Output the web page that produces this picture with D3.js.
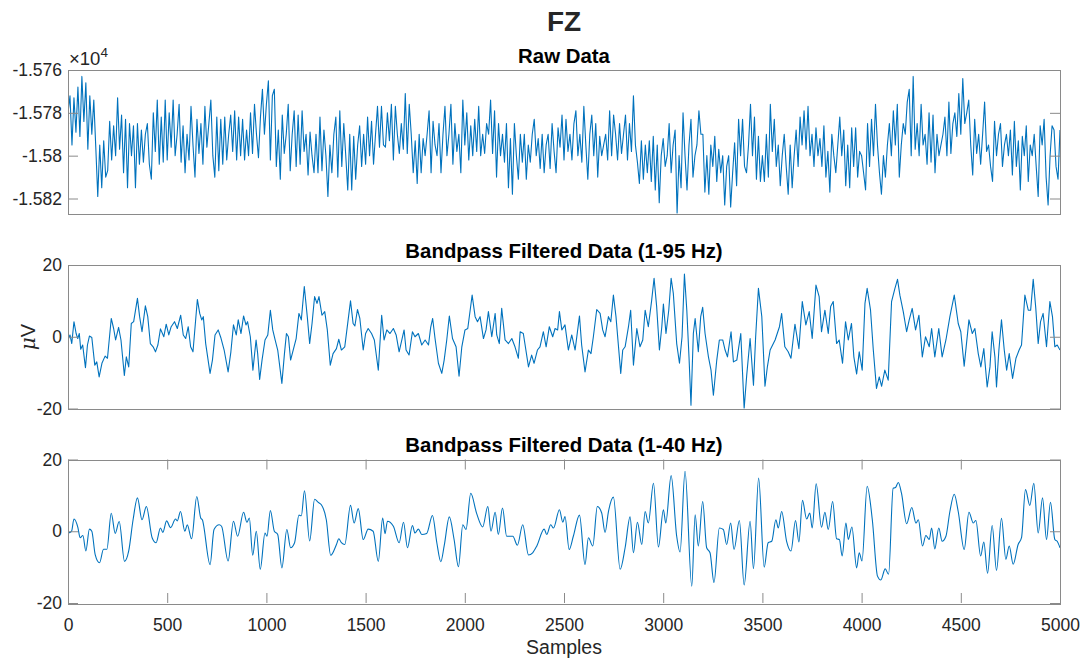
<!DOCTYPE html>
<html>
<head>
<meta charset="utf-8">
<script src="https://cdn.jsdelivr.net/npm/d3@7"></script>
<style>
  body { margin: 0; background: #fff; }
  text { font-family: "Liberation Sans", Arial, Helvetica, sans-serif; }
</style>
</head>
<body>
<div class="chart"></div>
<script>
var width = 1083;
var height = 659;

var xTicks = [0, 500, 1000, 1500, 2000, 2500, 3000, 3500, 4000, 4500, 5000];
var rawTicks = [-15760, -15780, -15800, -15820];
var uvTicks = [-20, 0, 20];

// raw signal, one value every rawStep samples
var rawStep = 10;
var rawValues = [
  -15780,-15772,-15795,-15773,-15789,-15768,-15791,-15763,-15784,-15766,
  -15797,-15772,-15790,-15774,-15796,-15819,-15795,-15815,-15793,-15810,
  -15807,-15784,-15802,-15786,-15800,-15773,-15797,-15781,-15808,-15783,
  -15815,-15785,-15800,-15786,-15815,-15785,-15804,-15788,-15803,-15790,
  -15785,-15804,-15811,-15780,-15798,-15774,-15804,-15782,-15803,-15774,
  -15802,-15780,-15796,-15774,-15800,-15790,-15776,-15803,-15786,-15808,
  -15790,-15802,-15777,-15795,-15810,-15783,-15799,-15785,-15804,-15777,
  -15796,-15785,-15774,-15800,-15810,-15782,-15807,-15783,-15804,-15782,
  -15802,-15790,-15781,-15798,-15779,-15802,-15782,-15800,-15783,-15802,
  -15788,-15800,-15780,-15799,-15776,-15790,-15801,-15782,-15769,-15790,
  -15776,-15765,-15802,-15772,-15769,-15805,-15788,-15811,-15781,-15799,
  -15790,-15776,-15807,-15790,-15779,-15805,-15781,-15804,-15779,-15798,
  -15790,-15809,-15789,-15800,-15808,-15790,-15808,-15782,-15807,-15788,
  -15800,-15819,-15795,-15808,-15790,-15782,-15810,-15779,-15805,-15785,
  -15800,-15816,-15790,-15816,-15791,-15811,-15795,-15786,-15805,-15790,
  -15804,-15782,-15800,-15784,-15804,-15790,-15777,-15796,-15777,-15795,
  -15796,-15780,-15793,-15776,-15802,-15777,-15790,-15799,-15785,-15797,
  -15771,-15799,-15776,-15790,-15808,-15793,-15813,-15790,-15808,-15792,
  -15800,-15790,-15779,-15808,-15784,-15795,-15800,-15785,-15808,-15790,
  -15777,-15800,-15790,-15776,-15804,-15785,-15798,-15790,-15808,-15774,
  -15795,-15780,-15802,-15786,-15800,-15783,-15798,-15777,-15800,-15790,
  -15799,-15785,-15790,-15774,-15799,-15779,-15810,-15785,-15800,-15790,
  -15803,-15785,-15815,-15792,-15818,-15785,-15800,-15811,-15790,-15803,
  -15790,-15811,-15795,-15803,-15790,-15783,-15800,-15792,-15806,-15790,
  -15808,-15795,-15790,-15806,-15785,-15798,-15808,-15787,-15796,-15781,
  -15802,-15783,-15798,-15790,-15802,-15785,-15779,-15800,-15790,-15803,
  -15777,-15795,-15811,-15790,-15781,-15800,-15785,-15810,-15791,-15800,
  -15795,-15790,-15802,-15779,-15800,-15781,-15790,-15802,-15785,-15799,
  -15790,-15781,-15802,-15785,-15798,-15772,-15795,-15803,-15813,-15793,
  -15811,-15795,-15808,-15793,-15812,-15791,-15816,-15795,-15822,-15800,
  -15792,-15805,-15800,-15785,-15808,-15795,-15788,-15827,-15800,-15815,
  -15780,-15800,-15816,-15795,-15783,-15810,-15800,-15795,-15779,-15790,
  -15790,-15817,-15800,-15818,-15795,-15805,-15791,-15812,-15797,-15808,
  -15800,-15823,-15805,-15800,-15824,-15808,-15794,-15814,-15783,-15800,
  -15783,-15805,-15808,-15795,-15776,-15800,-15782,-15811,-15791,-15812,
  -15800,-15812,-15790,-15810,-15776,-15798,-15783,-15805,-15795,-15814,
  -15800,-15790,-15805,-15818,-15795,-15815,-15800,-15788,-15805,-15782,
  -15795,-15779,-15797,-15777,-15800,-15790,-15805,-15787,-15800,-15792,
  -15805,-15786,-15810,-15798,-15817,-15790,-15800,-15808,-15795,-15782,
  -15800,-15788,-15814,-15795,-15815,-15787,-15805,-15787,-15810,-15798,
  -15800,-15808,-15816,-15785,-15805,-15783,-15800,-15776,-15795,-15808,
  -15818,-15800,-15810,-15795,-15785,-15800,-15779,-15795,-15776,-15810,
  -15795,-15785,-15790,-15775,-15769,-15800,-15763,-15797,-15785,-15800,
  -15776,-15795,-15790,-15804,-15780,-15803,-15781,-15808,-15790,-15800,
  -15795,-15790,-15782,-15800,-15775,-15799,-15785,-15780,-15791,-15771,
  -15790,-15764,-15785,-15780,-15774,-15795,-15809,-15783,-15799,-15790,
  -15804,-15790,-15775,-15798,-15795,-15805,-15812,-15784,-15800,-15790,
  -15785,-15805,-15795,-15790,-15800,-15788,-15809,-15784,-15805,-15793,
  -15816,-15791,-15800,-15786,-15812,-15795,-15800,-15790,-15805,-15819,
  -15786,-15795,-15783,-15810,-15823,-15800,-15786,-15788,-15805,-15811,
  -15788
];

// bandpass 1-95 Hz
var bp95Samples = [0,10,19,30,41,49,57,64,74,88,98,108,120,135,145,157,171,187,199,218,230,240,255,267,284,294,306,319,331,350,361,373,390,402,415,429,441,453,466,483,495,508,520,537,551,568,581,593,606,618,630,652,664,674,682,694,716,728,741,757,770,787,807,821,834,848,858,872,885,897,905,919,932,948,956,966,978,993,1007,1020,1032,1044,1057,1078,1091,1101,1111,1122,1135,1150,1164,1176,1191,1206,1218,1230,1243,1255,1265,1280,1294,1307,1322,1336,1353,1365,1378,1395,1412,1424,1437,1446,1459,1471,1488,1500,1513,1530,1544,1564,
  1581,1593,1607,1623,1640,1654,1669,1694,1704,1719,1736,1749,1766,1783,1800,1817,1828,1838,1850,1867,1884,1896,1909,1922,1938,1956,1971,1985,2001,2015,2027,2037,2052,2064,2077,2094,2107,2119,2136,2153,2161,2174,2186,2203,2220,2237,2253,2270,2279,2295,2321,2337,2349,2366,2379,2396,2410,2426,2443,2455,2468,2477,2489,2505,2522,2539,2556,2578,2589,2606,2623,2636,2648,2665,2682,2695,2707,2724,2736,2749,2762,2774,2786,2796,2808,2825,2836,2850,2867,2883,2897,2909,2925,2942,2954,2967,2981,2993,3001,3014,3028,3040,3051,3068,3082,3095,3107,3119,3130,3140,3152,3161,3177,3189,3199,3211,3228,3241,3253,3270,3283,3300,3312,3324,3342,3354,3371,3391,3408,3421,3438,3455,3466,3480,3497,3513,3525,3539,3564,3586,
  3597,3613,3630,3644,3664,3684,3701,3719,3736,3751,3770,3786,3798,3815,3832,3844,3857,3874,3887,3904,3919,3933,3949,3961,3975,3988,4003,4017,4028,4045,4059,4075,4089,4101,4117,4134,4151,4168,4181,4193,4210,4227,4240,4255,4272,4289,4306,4322,4341,4353,4369,4389,4406,4425,4445,4467,4487,4500,4517,4541,4558,4571,4588,4601,4616,4633,4647,4658,4672,4680,4692,4705,4719,4731,4744,4761,4778,4794,4806,4823,4840,4852,4865,4878,4890,4902,4915,4932,4949,4962,4974,4986,5000];
var bp95Values = [-0.9,0.5,-1.9,4.2,0.9,-0.5,0.9,-3.5,-2.3,-8.6,-2.3,0.2,-0.2,-7.9,-7,-11.2,-7.4,-5.4,-6,5.1,2.3,-0.9,2.6,-0.9,-10.8,-5.6,-8.4,3.7,4.2,10.7,5.6,1.4,8.6,5.6,-1.9,-2.8,-4.2,-2.3,2.2,0,3.5,0.5,2.8,4.2,2.3,6,0.5,-0.5,2.8,-2.8,-4.2,10.4,6.5,4.7,5.6,-1.9,-10.2,-6.5,0.5,1.9,-0.2,-3.7,-9.8,-4.2,3.3,0.5,4.7,0.9,5.8,3.3,4.2,0,-9.3,-0.9,-4.7,-11.9,-6.5,-0.9,0.5,7.4,1.9,-0.9,-3.7,-13,-4.7,0.9,0,-6.5,-3.7,-0.5,6.5,4.7,14,5.6,-1.9,3.7,11.2,9.3,11.2,6,7,1.9,-7.9,-4.7,-3.3,-0.7,-3.7,-2.8,4.7,10,3.7,3,7.6,5.1,-3.7,0.9,2.3,0.9,-0.9,-9.3,
  6,-0.9,1.9,0.9,2.3,0.5,-4.2,1.9,-3.7,-5.1,1.4,0,0.9,-2.3,-0.9,-2.3,2.6,5.1,-0.5,-7.4,-10.2,-6.5,-0.9,5.8,-0.5,-2.8,-11,-2.8,1.9,2.3,7.4,11.6,5.6,4.2,5.6,-0.5,1.9,7,0,6.5,0.5,-1.9,7.9,-0.9,-1.9,-0.5,-2.8,-6,1.4,0.9,-8.4,-5.1,-7.4,-3.7,-2.8,1.4,-2.8,2.8,0,2.3,1.9,7,1.9,3.3,-3.7,0.5,-3.7,5.8,-2.3,-9.8,-3.7,-4.7,0,7.6,6.5,1.9,0,5.6,4.2,11.6,5.6,-2.3,-10.2,-3.7,-2.8,2.8,7.4,-7.9,2.3,-2.8,-0.9,7.4,2.8,10.2,16.3,8.4,-3.7,2.8,9.1,0.9,7.4,16.3,12.1,-1.9,-7.4,0,17.5,7.4,-5.6,-19.1,0.9,5.1,-4.2,5.6,8.2,0.9,-5.6,-9.3,-16.3,-6.5,-0.9,-0.9,-3.7,-5.6,1.4,-7,-6.5,0.9,-20,-10.7,-0.5,-13.5,0,13.5,5.6,-13.8,-8.4,-3.7,-0.9,2.8,
  6.5,-2.8,-4.2,-6,3.5,-3.3,9.8,3.3,7,-0.5,14.4,11.2,1.4,7.4,0.9,8.4,9.8,-1.9,-0.9,-7.4,4.2,-0.9,3.7,-5.6,-10.4,-4.2,-9.3,9.3,13.5,7.4,-3.7,-14.4,-11.2,-13.8,-9.3,-12.1,9.8,13.5,16,11.6,7,1.4,4.7,7.9,1.9,6,-5.6,0,-2.8,2.3,-5.6,2.3,-5.6,-0.9,5.6,11.6,3.7,1.4,-8.2,4.7,0.9,2.3,-4.7,-8.4,-3.3,-14,-8.4,1.4,-5.6,-14,-3.7,4.7,-3.7,-9.3,-4.7,-11.6,-6,-3.7,-2.3,11.6,7.4,7.4,16,7.9,-1.9,4.2,6.5,-2.8,9.8,5.6,-2.8,-2.3,-3.7];

// bandpass 1-40 Hz
var bp40Samples = [0,18,30,50,61,75,90,108,120,137,159,179,196,218,238,258,285,306,328,350,373,395,424,444,466,478,497,517,542,551,567,589,601,623,649,669,677,716,736,762,774,807,834,855,885,902,914,931,949,969,993,1003,1020,1040,1057,1078,1103,1122,1142,1164,1176,1192,1218,1243,1260,1277,1302,1324,1353,1365,1378,1395,1424,1442,1463,1488,1513,1538,1564,
  1586,1598,1610,1640,1669,1691,1711,1736,1749,1766,1783,1808,1837,1859,1879,1896,1922,1946,1968,1990,2006,2030,2060,2090,2116,2132,2153,2169,2190,2211,2242,2265,2292,2321,2342,2363,2400,2413,2433,2447,2477,2494,2505,2526,2547,2578,2606,2623,2645,2668,2690,2707,2724,2749,2783,2808,2833,2850,2870,2892,2909,2925,2951,2976,3001,3013,3040,3068,3085,3110,3144,3161,3177,3199,3219,3236,3256,3283,3303,3320,3340,3357,3384,3408,3438,3455,3481,3509,3529,3547,3568,3580,3597,3622,3644,3667,3684,3702,3723,3739,3751,3771,3798,3815,3832,3854,3874,3888,3902,3921,3933,3951,3975,3988,4002,4028,4054,4080,4097,4119,4136,4159,4171,4185,4201,4227,4253,4274,4286,4307,4324,4341,4353,4369,4389,4406,4425,4445,4467,4487,4517,4541,4563,4576,4600,4616,4635,4658,4680,4705,4727,4744,4764,4789,4806,4826,4848,4868,4890,4912,4932,4952,4974,4986,5000];
var bp40Values = [-0.5,0,3.4,1,-1.8,-1.2,-5.5,0.6,0,-6.5,-8.8,-5,-5,5,-0.6,2.7,-8.4,-5.5,3.2,9.3,3.2,6.9,-1.8,-3.2,0.9,-0.3,2.9,1,3.4,2.9,5.5,0,1.8,-2.1,9.7,3.7,3.2,-9.3,0.5,1.8,1.4,-8.3,2.8,-1.4,5.3,2.5,3.7,-6.7,0,-10.6,-0.5,-1.4,5.8,0,-0.9,-10.2,0.5,-4.6,-3.2,4.5,4.3,11.3,-2.7,8.9,8.1,7.4,3.2,-6.7,-3.7,-2.1,-3.2,-3.7,7.2,2.3,6.3,-2.3,0.6,0,-8.4,
  3.7,-0.7,2.8,1.4,-3.2,2.5,-4.6,1.6,-0.5,0.6,-0.9,-0.6,4.4,-3.2,-8.5,-4.1,4,-2.3,-9.9,1.8,0.5,10.6,4.9,1.2,6.9,0,5.3,-0.9,6.5,-1.4,-1.4,-3.9,1.8,-6.6,-6,-4.1,0.6,-0.9,1.8,0.9,6,2.5,4.1,-5.1,-1.4,4.5,-9.3,-1.8,-4.1,6.9,5.1,-0.3,5.5,9.5,-10.6,-4.6,4,-6,2.5,-3.7,5.5,2.3,13.4,-4.4,6,2.3,15.5,-1.4,-5.8,16.7,-15.3,4.6,-4.1,8.3,-4.6,-6,-14.3,0.9,0.5,-3.7,2.3,-5.1,3,-15,2.8,-10.4,14.8,-10,-3.2,-2.8,3.2,0.9,5.5,-2.8,-5.5,3,-3,8.6,3.4,5.1,0.9,13.2,1.1,5.3,0.5,8.3,-2.1,-2.3,-6.9,2.3,-2.3,1.2,-10.2,-6,-8.3,12.5,3.2,-12.5,-13.6,-10.5,-12,12,12.2,13.6,10.6,2.1,6.6,2.3,3.2,-4.1,-1.2,-2.3,0.9,-4.9,0.9,-2.8,-1.4,5.5,10.3,5.5,-5.1,5.3,2.3,3,-6.9,-3,-11.7,1.6,-10.9,3.6,-7.8,-4.1,-9.2,-3.7,-1.8,11.6,7.2,13.4,-0.5,9.3,-2.3,8.1,-2.3,-2.8,-4.6];

var left = 68, right = 1060;
var panelHeight = 143.5;
var lineColor = "#0072BD";
var textColor = "#262626";
var axisColor = "#8a8a8a";
var tickFont = "17.5px";

var x = d3.scaleLinear().domain([0, 5000]).range([left, right]);

var svg = d3.select(".chart")
    .append("svg")
    .attr("width", width)
    .attr("height", height);

svg.append("rect")
    .attr("width", width)
    .attr("height", height)
    .attr("fill", "white");

svg.append("text")
    .attr("x", (left + right) / 2)
    .attr("y", 31)
    .attr("text-anchor", "middle")
    .attr("font-size", "28px")
    .attr("font-weight", "bold")
    .attr("fill", textColor)
    .text("FZ");

function drawPanel(top, title, domain, ticks, tickFormat, data, curve, showX, id) {
    var y = d3.scaleLinear().domain(domain).range([top + panelHeight, top]);
    var g = svg.append("g");

    g.append("clipPath").attr("id", id)
      .append("rect")
        .attr("x", left).attr("y", top)
        .attr("width", right - left).attr("height", panelHeight);

    var line = d3.line()
        .x(function(d) { return x(d[0]); })
        .y(function(d) { return y(d[1]); })
        .curve(curve);

    g.append("path")
        .datum(data)
        .attr("clip-path", "url(#" + id + ")")
        .attr("fill", "none")
        .attr("stroke", lineColor)
        .attr("stroke-width", 1.1)
        .attr("stroke-linejoin", "round")
        .attr("d", line);

    // y axes, ticks pointing inward on both sides
    var yLeft = d3.axisLeft(y).tickValues(ticks).tickSizeInner(-10).tickSizeOuter(0)
        .tickPadding(6).tickFormat(tickFormat);
    var gl = g.append("g")
        .attr("transform", "translate(" + left + ",0)")
        .call(yLeft);
    gl.selectAll("text").attr("font-size", tickFont).attr("fill", textColor);

    var yRight = d3.axisRight(y).tickValues(ticks).tickSizeInner(-10).tickSizeOuter(0)
        .tickFormat("");
    g.append("g")
        .attr("transform", "translate(" + right + ",0)")
        .call(yRight);

    if (showX) {
        var xb = g.append("g")
            .attr("transform", "translate(0," + (top + panelHeight) + ")")
            .call(d3.axisBottom(x).tickValues(xTicks).tickSizeInner(-10).tickSizeOuter(0)
                .tickPadding(16).tickFormat(function(d) { return String(d); }));
        xb.selectAll("text").attr("font-size", tickFont).attr("fill", textColor);
        g.append("g")
            .attr("transform", "translate(0," + top + ")")
            .call(d3.axisTop(x).tickValues(xTicks).tickSizeInner(-10).tickSizeOuter(0).tickFormat(""));
    }

    g.selectAll(".domain").remove();
    g.selectAll(".tick line").attr("stroke", axisColor);

    // box
    g.append("rect")
        .attr("x", left + 0.5).attr("y", Math.round(top) + 0.5)
        .attr("width", right - left).attr("height", Math.round(panelHeight))
        .attr("fill", "none")
        .attr("stroke", axisColor)
        .attr("stroke-width", 1);

    g.append("text")
        .attr("x", (left + right) / 2)
        .attr("y", top - 7.5)
        .attr("text-anchor", "middle")
        .attr("font-size", "20.4px")
        .attr("font-weight", "bold")
        .attr("fill", "black")
        .text(title);

    return y;
}

var rawData = rawValues.map(function(v, i) { return [i * rawStep, v]; });
var bp95Data = bp95Samples.map(function(s, i) { return [s, bp95Values[i]]; });
var bp40Data = bp40Samples.map(function(s, i) { return [s, bp40Values[i]]; });

drawPanel(70, "Raw Data", [-15827, -15760], rawTicks,
    function(d) { return String(+(d / 1e4).toFixed(4)); }, rawData, d3.curveLinear, false, "c1");
drawPanel(265, "Bandpass Filtered Data (1-95 Hz)", [-20, 20], uvTicks,
    function(d) { return String(d); }, bp95Data, d3.curveLinear, false, "c2");
drawPanel(459.5, "Bandpass Filtered Data (1-40 Hz)", [-20, 20], uvTicks,
    function(d) { return String(d); }, bp40Data, d3.curveMonotoneX, true, "c3");

// exponent label for the raw axis
var expo = svg.append("text")
    .attr("x", 69)
    .attr("y", 65)
    .attr("font-size", "18.5px")
    .attr("fill", textColor);
expo.append("tspan").text("\u00d710");
expo.append("tspan").attr("font-size", "13.5px").attr("dy", -8).text("4");

// y label
var yl = svg.append("text")
    .attr("transform", "translate(35,337) rotate(-90)")
    .attr("text-anchor", "middle")
    .attr("font-size", "20px")
    .attr("fill", textColor);
yl.append("tspan").attr("font-style", "italic").attr("font-family", "'DejaVu Serif', serif").text("\u03bc");
yl.append("tspan").text("V");

svg.append("text")
    .attr("x", (left + right) / 2)
    .attr("y", 654)
    .attr("text-anchor", "middle")
    .attr("font-size", "19.5px")
    .attr("fill", textColor)
    .text("Samples");
</script>
</body>
</html>
